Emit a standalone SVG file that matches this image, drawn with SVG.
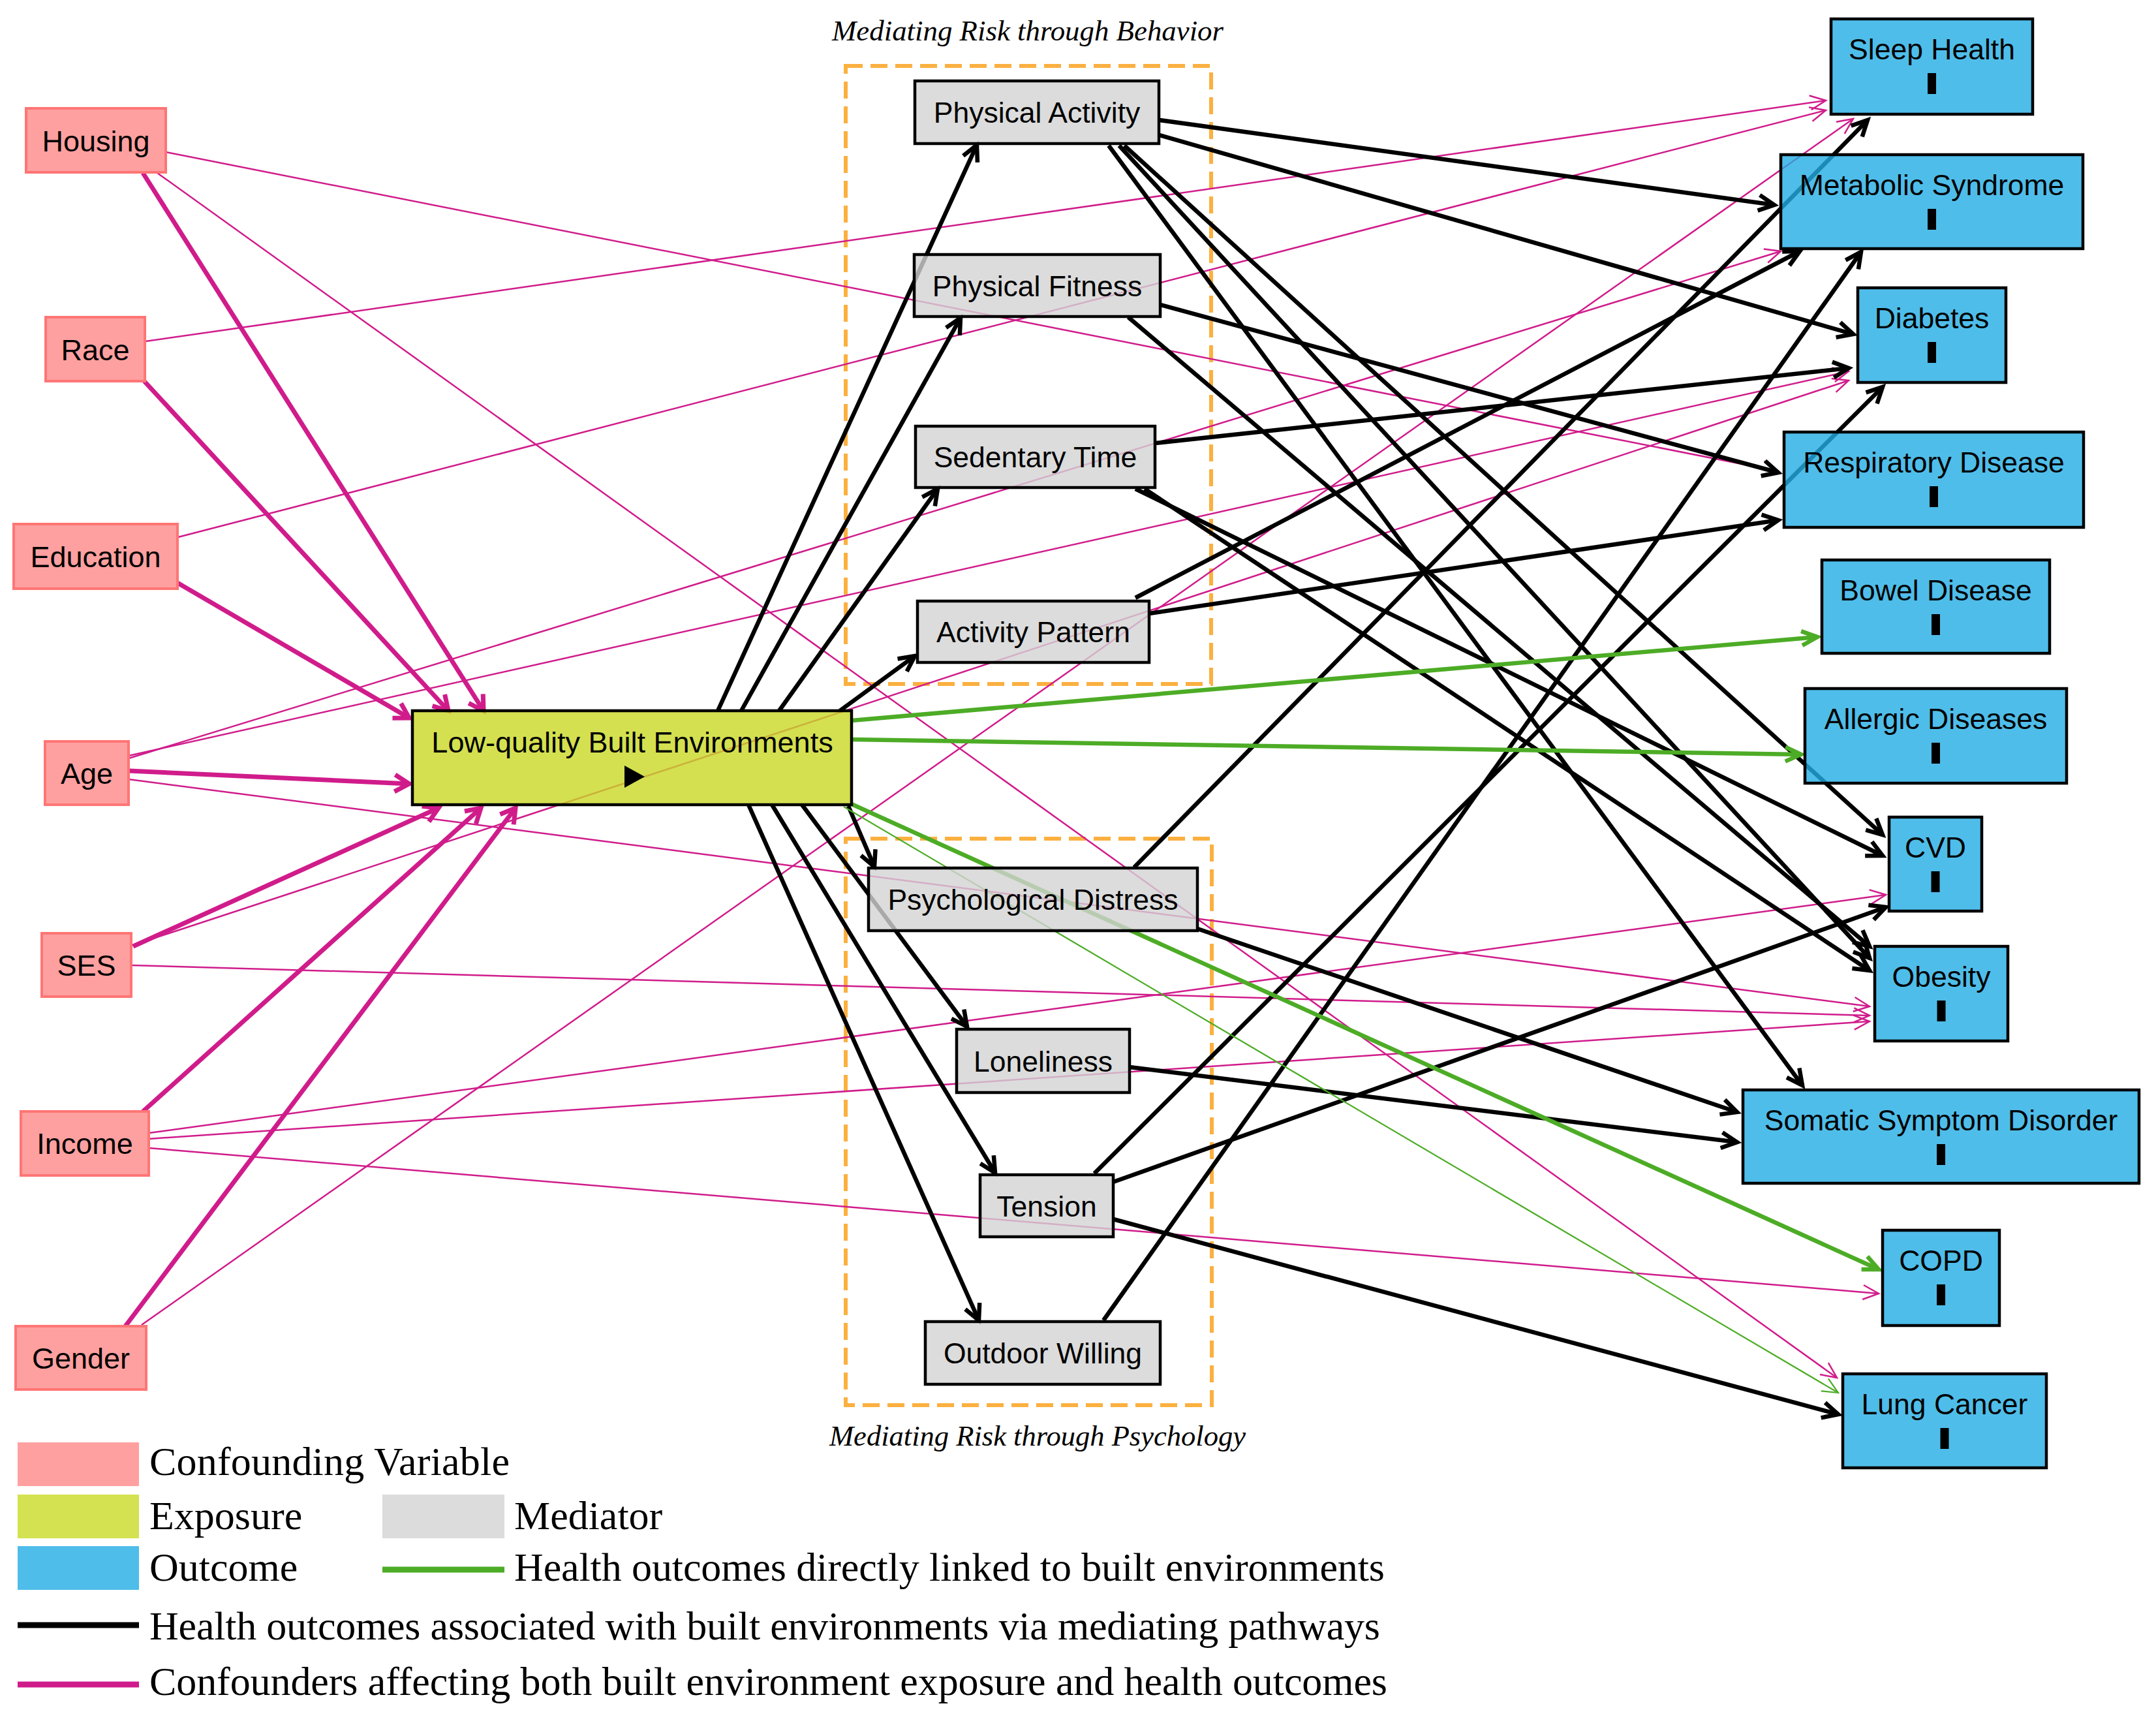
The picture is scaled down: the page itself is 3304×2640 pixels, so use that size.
<svg xmlns="http://www.w3.org/2000/svg" width="3304" height="2640" viewBox="0 0 3304 2640">
<style>
.conf{fill:#FFA0A0;stroke:#FF7575;stroke-width:4}
.expo{fill:#C9D824;fill-opacity:0.8;stroke:#000;stroke-width:4.5}
.med{fill:#D3D3D3;fill-opacity:0.8;stroke:#000;stroke-width:4.5}
.out{fill:#23ACE4;fill-opacity:0.8;stroke:#000;stroke-width:4.5}
.grp{fill:none;stroke:#FBB040;stroke-width:6;stroke-dasharray:26 12}
.nt{font-family:"Liberation Sans",Arial,sans-serif;font-size:45px;fill:#000;text-anchor:middle}
.ot{font-family:"Liberation Sans",Arial,sans-serif;font-size:44.5px;fill:#000;text-anchor:middle}
.ttl{font-family:"Liberation Serif","Times New Roman",serif;font-style:italic;font-size:44px;fill:#000;text-anchor:middle}
.lg{font-family:"Liberation Serif","Times New Roman",serif;font-size:62px;fill:#000}
.bk{stroke:#000;stroke-width:6.5;fill:none;marker-end:url(#arrB)}
.mg{stroke:#D01C8B;stroke-width:7;fill:none;marker-end:url(#arrM)}
.mt{stroke:#D01C8B;stroke-width:2.5;fill:none;marker-end:url(#arrMt)}
.gr{stroke:#4DAC26;stroke-width:6.5;fill:none;marker-end:url(#arrG)}
.gt{stroke:#4DAC26;stroke-width:2.2;fill:none;marker-end:url(#arrGt)}
</style>
<defs>
<marker id="arrB" viewBox="-32 -16 36 32" markerWidth="36" markerHeight="32" refX="0" refY="0" orient="auto" markerUnits="userSpaceOnUse" overflow="visible"><path d="M-24,-12 L0,0 L-24,12" fill="none" stroke="#000" stroke-width="6.5"/></marker>
<marker id="arrM" viewBox="-32 -16 36 32" markerWidth="36" markerHeight="32" refX="0" refY="0" orient="auto" markerUnits="userSpaceOnUse" overflow="visible"><path d="M-22,-13 L0,0 L-22,13" fill="none" stroke="#D01C8B" stroke-width="7"/></marker>
<marker id="arrMt" viewBox="-32 -16 36 32" markerWidth="36" markerHeight="32" refX="0" refY="0" orient="auto" markerUnits="userSpaceOnUse" overflow="visible"><path d="M-24,-11 L0,0 L-24,11" fill="none" stroke="#D01C8B" stroke-width="2.5"/></marker>
<marker id="arrG" viewBox="-32 -16 36 32" markerWidth="36" markerHeight="32" refX="0" refY="0" orient="auto" markerUnits="userSpaceOnUse" overflow="visible"><path d="M-24,-11 L0,0 L-24,11" fill="none" stroke="#4DAC26" stroke-width="6.5"/></marker>
<marker id="arrGt" viewBox="-32 -16 36 32" markerWidth="36" markerHeight="32" refX="0" refY="0" orient="auto" markerUnits="userSpaceOnUse" overflow="visible"><path d="M-24,-11 L0,0 L-24,11" fill="none" stroke="#4DAC26" stroke-width="2.2"/></marker>
</defs>
<rect width="3304" height="2640" fill="#fff"/>

<g id="groups">
<rect class="grp" x="1296" y="101" width="560" height="947"/>
<text class="ttl" x="1575" y="62" textLength="600" lengthAdjust="spacingAndGlyphs">Mediating Risk through Behavior</text>
<rect class="grp" x="1296" y="1285" width="561" height="868"/>
<text class="ttl" x="1590" y="2215" textLength="638" lengthAdjust="spacingAndGlyphs">Mediating Risk through Psychology</text>
</g>

<g id="connectors">
<line class="mg" x1="219" y1="265" x2="741" y2="1089"/>
<line class="mg" x1="221" y1="584" x2="687" y2="1089"/>
<line class="mg" x1="272" y1="893" x2="627" y2="1100"/>
<line class="mg" x1="197" y1="1181" x2="627" y2="1201"/>
<line class="mg" x1="204" y1="1450" x2="672" y2="1238"/>
<line class="mg" x1="219" y1="1703" x2="737" y2="1238"/>
<line class="mg" x1="192" y1="2032" x2="790" y2="1238"/>

<line class="mt" x1="254" y1="233" x2="2725" y2="722"/>
<line class="mt" x1="241" y1="265" x2="2815" y2="2111"/>
<line class="mt" x1="223" y1="523" x2="2798" y2="154"/>
<line class="mt" x1="273" y1="823" x2="2798" y2="169"/>
<line class="mt" x1="197" y1="1162" x2="2729" y2="385"/>
<line class="mt" x1="197" y1="1158" x2="2833" y2="569"/>
<line class="mt" x1="197" y1="1194" x2="2865" y2="1542"/>
<line class="mt" x1="201" y1="1449" x2="2833" y2="583"/>
<line class="mt" x1="201" y1="1479" x2="2865" y2="1556"/>
<line class="mt" x1="228" y1="1736" x2="2890" y2="1371"/>
<line class="mt" x1="228" y1="1745" x2="2865" y2="1565"/>
<line class="mt" x1="228" y1="1759" x2="2879" y2="1982"/>
<line class="mt" x1="217" y1="2030" x2="2840" y2="182"/>

<line class="bk" x1="1100" y1="1089" x2="1497" y2="222"/>
<line class="bk" x1="1136" y1="1089" x2="1472" y2="487"/>
<line class="bk" x1="1194" y1="1089" x2="1437" y2="749"/>
<line class="bk" x1="1287" y1="1089" x2="1402" y2="1005"/>
<line class="bk" x1="1300" y1="1235" x2="1340" y2="1328"/>
<line class="bk" x1="1229" y1="1233" x2="1482" y2="1573"/>
<line class="bk" x1="1183" y1="1233" x2="1525" y2="1797"/>
<line class="bk" x1="1147" y1="1233" x2="1500" y2="2023"/>

<line class="bk" x1="1777" y1="184" x2="2719" y2="314"/>
<line class="bk" x1="1777" y1="207" x2="2840" y2="512"/>
<line class="bk" x1="1699" y1="223" x2="2762" y2="1663"/>
<line class="bk" x1="1715" y1="223" x2="2865" y2="1468"/>
<line class="bk" x1="1723" y1="223" x2="2885" y2="1279"/>
<line class="bk" x1="1778" y1="467" x2="2725" y2="724"/>
<line class="bk" x1="1729" y1="486" x2="2865" y2="1450"/>
<line class="bk" x1="1770" y1="679" x2="2833" y2="564"/>
<line class="bk" x1="1740" y1="749" x2="2885" y2="1311"/>
<line class="bk" x1="1754" y1="749" x2="2865" y2="1487"/>
<line class="bk" x1="1740" y1="916" x2="2758" y2="385"/>
<line class="bk" x1="1761" y1="940" x2="2725" y2="797"/>
<line class="bk" x1="1738" y1="1329" x2="2862" y2="184"/>
<line class="bk" x1="1835" y1="1423" x2="2662" y2="1704"/>
<line class="bk" x1="1731" y1="1635" x2="2662" y2="1750"/>
<line class="bk" x1="1677" y1="1798" x2="2885" y2="593"/>
<line class="bk" x1="1706" y1="1811" x2="2890" y2="1390"/>
<line class="bk" x1="1706" y1="1868" x2="2817" y2="2167"/>
<line class="bk" x1="1691" y1="2023" x2="2852" y2="386"/>

<line class="gr" x1="1305" y1="1104" x2="2785" y2="976"/>
<line class="gr" x1="1305" y1="1133" x2="2760" y2="1156"/>
<line class="gr" x1="1305" y1="1232" x2="2879" y2="1945"/>
<line class="gt" x1="1293" y1="1236" x2="2817" y2="2134"/>
</g>

<g id="n-housing"><rect class="conf" x="40" y="166" width="214" height="98"/><text class="nt" x="147" y="232">Housing</text></g>
<g id="n-race"><rect class="conf" x="70" y="486" width="152" height="98"/><text class="nt" x="146" y="552">Race</text></g>
<g id="n-education"><rect class="conf" x="21" y="803" width="251" height="99"/><text class="nt" x="146.5" y="869">Education</text></g>
<g id="n-age"><rect class="conf" x="69" y="1136" width="128" height="97"/><text class="nt" x="133" y="1201">Age</text></g>
<g id="n-ses"><rect class="conf" x="64" y="1430" width="137" height="97"/><text class="nt" x="132.5" y="1495">SES</text></g>
<g id="n-income"><rect class="conf" x="32" y="1703" width="196" height="98"/><text class="nt" x="130" y="1768">Income</text></g>
<g id="n-gender"><rect class="conf" x="24" y="2032" width="200" height="97"/><text class="nt" x="124" y="2097">Gender</text></g>

<g id="n-exposure"><rect class="expo" x="632" y="1089" width="673" height="144"/><text class="nt" x="969" y="1153">Low-quality Built Environments</text><polygon points="957,1173 957,1207 988,1190" fill="#000"/></g>

<g id="n-pa"><rect class="med" x="1402" y="124" width="374" height="96"/><text class="ot" x="1589" y="188">Physical Activity</text></g>
<g id="n-pf"><rect class="med" x="1401" y="390" width="377" height="95"/><text class="ot" x="1589.5" y="454">Physical Fitness</text></g>
<g id="n-st"><rect class="med" x="1403" y="653" width="367" height="94"/><text class="ot" x="1586.5" y="716">Sedentary Time</text></g>
<g id="n-ap"><rect class="med" x="1406" y="921" width="355" height="94"/><text class="ot" x="1583.5" y="984">Activity Pattern</text></g>
<g id="n-pd"><rect class="med" x="1331" y="1330" width="504" height="96"/><text class="ot" x="1583" y="1394">Psychological Distress</text></g>
<g id="n-lon"><rect class="med" x="1466" y="1577" width="265" height="97"/><text class="ot" x="1598.5" y="1642">Loneliness</text></g>
<g id="n-tension"><rect class="med" x="1502" y="1800" width="204" height="95"/><text class="ot" x="1604" y="1864">Tension</text></g>
<g id="n-ow"><rect class="med" x="1418" y="2025" width="360" height="96"/><text class="ot" x="1598" y="2089">Outdoor Willing</text></g>

<g id="n-sleep"><rect class="out" x="2806" y="29" width="309" height="146"/><text class="ot" x="2960.5" y="91">Sleep Health</text><rect x="2954" y="112" width="13" height="32"/></g>
<g id="n-ms"><rect class="out" x="2729" y="237" width="463" height="144"/><text class="ot" x="2960.5" y="299">Metabolic Syndrome</text><rect x="2954" y="320" width="13" height="32"/></g>
<g id="n-diabetes"><rect class="out" x="2847" y="441" width="227" height="145"/><text class="ot" x="2960.5" y="503">Diabetes</text><rect x="2954" y="524" width="13" height="32"/></g>
<g id="n-resp"><rect class="out" x="2734" y="662" width="459" height="146"/><text class="ot" x="2963.5" y="724">Respiratory Disease</text><rect x="2957" y="745" width="13" height="32"/></g>
<g id="n-bowel"><rect class="out" x="2792" y="858" width="349" height="143"/><text class="ot" x="2966.5" y="920">Bowel Disease</text><rect x="2960" y="941" width="13" height="32"/></g>
<g id="n-allergic"><rect class="out" x="2766" y="1055" width="401" height="145"/><text class="ot" x="2966.5" y="1117">Allergic Diseases</text><rect x="2960" y="1138" width="13" height="32"/></g>
<g id="n-cvd"><rect class="out" x="2895" y="1252" width="142" height="144"/><text class="ot" x="2966" y="1314">CVD</text><rect x="2959.5" y="1335" width="13" height="32"/></g>
<g id="n-obesity"><rect class="out" x="2873" y="1450" width="204" height="145"/><text class="ot" x="2975" y="1512">Obesity</text><rect x="2968.5" y="1533" width="13" height="32"/></g>
<g id="n-ssd"><rect class="out" x="2671" y="1670" width="607" height="143"/><text class="ot" x="2974.5" y="1732">Somatic Symptom Disorder</text><rect x="2968" y="1753" width="13" height="32"/></g>
<g id="n-copd"><rect class="out" x="2885" y="1885" width="179" height="146"/><text class="ot" x="2974.5" y="1947">COPD</text><rect x="2968" y="1968" width="13" height="32"/></g>
<g id="n-lung"><rect class="out" x="2824" y="2105" width="312" height="144"/><text class="ot" x="2980" y="2167">Lung Cancer</text><rect x="2973.5" y="2188" width="13" height="32"/></g>

<g id="legend">
<rect x="27" y="2210" width="186" height="67" fill="#FFA0A0"/>
<text class="lg" x="229" y="2260" textLength="552">Confounding Variable</text>
<rect x="27" y="2290" width="186" height="67" fill="#D4E150"/>
<text class="lg" x="229" y="2343">Exposure</text>
<rect x="586" y="2290" width="187" height="67" fill="#DCDCDC"/>
<text class="lg" x="788" y="2343">Mediator</text>
<rect x="27" y="2369" width="186" height="67" fill="#4FBDE9"/>
<text class="lg" x="229" y="2422">Outcome</text>
<line x1="586" y1="2405" x2="773" y2="2405" stroke="#4DAC26" stroke-width="9"/>
<text class="lg" x="788" y="2422" textLength="1334">Health outcomes directly linked to built environments</text>
<line x1="27" y1="2490" x2="213" y2="2490" stroke="#000" stroke-width="9"/>
<text class="lg" x="229" y="2512" textLength="1886">Health outcomes associated with built environments via mediating pathways</text>
<line x1="27" y1="2581" x2="213" y2="2581" stroke="#D01C8B" stroke-width="9"/>
<text class="lg" x="229" y="2597" textLength="1897">Confounders affecting both built environment exposure and health outcomes</text>
</g>
</svg>
